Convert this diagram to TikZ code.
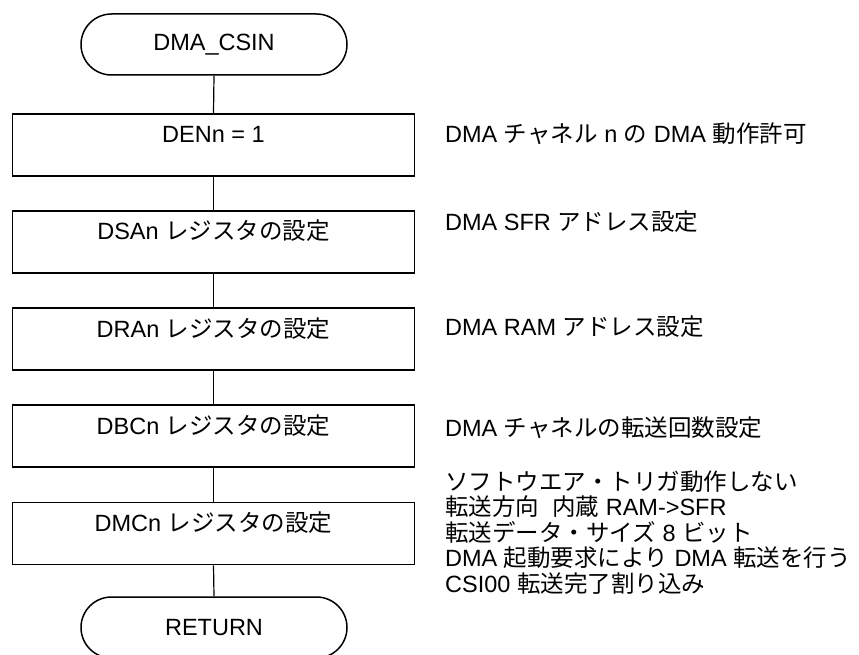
\documentclass[tikz,border=0pt]{standalone}
\usepackage{fontspec}
\setmainfont{Liberation Sans}
\newfontfamily\jpfont{Noto Sans CJK JP}
\newcommand{\J}[1]{{\jpfont #1}}
\usetikzlibrary{shapes.misc}
\tikzset{
  term/.style={rounded rectangle, draw, line width=1.5pt, minimum width=266pt, minimum height=61pt, inner sep=0pt},
  procbox/.style={rectangle, draw, line width=1.6pt, minimum width=402pt, minimum height=62pt, inner xsep=0pt, inner ysep=0pt, text height=29pt, text depth=33pt},
  note/.style={anchor=base west, inner sep=0pt},
  link/.style={line width=1.2pt}
}
\begin{document}
\begin{tikzpicture}[x=1pt,y=-1pt,font=\fontsize{23.5}{25.7}\selectfont]
\clip (0,0) rectangle (859,655);
\fill[white] (0,0) rectangle (859,655);
\node[term] (t1) at (214,44.5) {DMA\_CSIN};
\node[procbox] (b1) at (213.5,145) {DENn = 1};
\node[procbox] (b2) at (213.5,242) {DSAn \J{レジスタの設定}};
\node[procbox] (b3) at (213.5,339) {DRAn \J{レジスタの設定}};
\node[procbox] (b4) at (213.5,436) {DBCn \J{レジスタの設定}};
\node[procbox] (b5) at (213.5,533.5) {DMCn \J{レジスタの設定}};
\node[term] (t2) at (214,627.5) {RETURN};
\draw[link] (t1.south) -- (b1.north);
\draw[link] (b1.south) -- (b2.north);
\draw[link] (b2.south) -- (b3.north);
\draw[link] (b3.south) -- (b4.north);
\draw[link] (b4.south) -- (b5.north);
\draw[link] (b5.south) -- (t2.north);
\node[note] (n1) at (445,142.5) {DMA \J{チャネル} n \J{の} DMA \J{動作許可}};
\node[note] (n2) at (445,230) {DMA SFR \J{アドレス設定}};
\node[note] (n3) at (445,335.7) {DMA RAM \J{アドレス設定}};
\node[note] (n4) at (445,436) {DMA \J{チャネルの転送回数設定}};
\node[note] (n5a) at (445,490) {\J{ソフトウエア・トリガ動作しない}};
\node[note] (n5b) at (445,515.5) {\J{転送方向}\ \ \J{内蔵} RAM->SFR};
\node[note] (n5c) at (445,541) {\J{転送データ・サイズ} 8 \J{ビット}};
\node[note] (n5d) at (445,566.7) {DMA \J{起動要求により} DMA \J{転送を行う}};
\node[note] (n5e) at (445,592.5) {CSI00 \J{転送完了割り込み}};
\end{tikzpicture}
\end{document}
